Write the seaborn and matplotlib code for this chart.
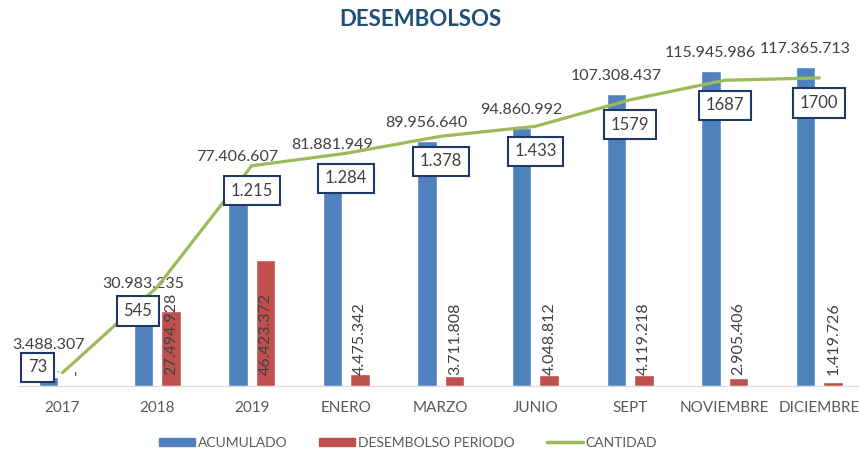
import numpy as np
import pandas as pd
import matplotlib.pyplot as plt
import seaborn as sns
from matplotlib.patches import Patch
from matplotlib.lines import Line2D

# Desembolsos: acumulado, periodo y cantidad de creditos

periodos = ['2017', '2018', '2019', 'ENERO', 'MARZO', 'JUNIO', 'SEPT', 'NOVIEMBRE', 'DICIEMBRE']
acumulado = [3488307, 30983235, 77406607, 81881949, 89956640, 94860992, 107308437, 115945986, 117365713]
desembolso_periodo = [0, 27494928, 46423372, 4475342, 3711808, 4048812, 4119218, 2905406, 1419726]
cantidad = [73, 545, 1215, 1284, 1378, 1433, 1579, 1687, 1700]
cantidad_labels = ['73', '545', '1.215', '1.284', '1.378', '1.433', '1579', '1687', '1700']

BLUE = '#4F81BD'
RED = '#C0504D'
GREEN = '#9BBB59'
NAVY = '#1F3864'
TXT = '#404040'


def fmt(v):
    if v == 0:
        return '-'
    return f'{v:,}'.replace(',', '.')


df = pd.DataFrame({
    'periodo': periodos * 2,
    'valor': acumulado + desembolso_periodo,
    'serie': ['ACUMULADO'] * len(periodos) + ['DESEMBOLSO PERIODO'] * len(periodos),
})

sns.set_style('white')
plt.rcParams['font.family'] = ['Lato', 'DejaVu Sans']

fig = plt.figure(figsize=(8.59, 4.55), dpi=100)
ax = fig.add_axes([18 / 859, 69 / 455, 841 / 859, 340 / 455])

sns.barplot(data=df, x='periodo', y='valor', hue='serie', palette=[BLUE, RED],
            width=0.58, gap=0.29, saturation=1, legend=False, ax=ax)
ax.set_ylim(0, 125e6)

ax2 = ax.twinx()
sns.lineplot(x=np.arange(len(periodos)), y=cantidad, color=GREEN, lw=2.3, ax=ax2)
ax2.set_ylim(0, 1876)
ax.set_xlim(-0.47, 8.42)

for a in (ax, ax2):
    a.set_yticks([])
    a.set_ylabel('')
    for s in ['top', 'left', 'right', 'bottom']:
        a.spines[s].set_visible(False)
ax.spines['bottom'].set_visible(True)
ax.spines['bottom'].set_color('#D9D9D9')
ax.set_xlabel('')
ax.tick_params(axis='x', length=0, pad=11, labelsize=11, labelcolor='#595959')

# etiquetas de barras (la de 2017 va mas arriba para no chocar con la caja)
off = 0.148
for i, v in enumerate(acumulado):
    dy = 18 if i == 0 else 8
    ax.annotate(fmt(v), (i - off, v), xytext=(0, dy), textcoords='offset points',
                ha='center', va='bottom', fontsize=11.5, color=TXT)
for i, v in enumerate(desembolso_periodo):
    ax.annotate(fmt(v), (i + off, 0), xytext=(0, 8), textcoords='offset points',
                ha='center', va='bottom', rotation=90, fontsize=11.5, color=TXT)

# etiquetas de la linea
box = dict(boxstyle='square,pad=0.4', fc='white', ec=NAVY, lw=1.5)
for i, (v, lab) in enumerate(zip(cantidad, cantidad_labels)):
    arrow = None
    if i == 0:
        dx, dy = -18, 4
        arrow = dict(arrowstyle='-', color='#A6A6A6', lw=0.7)
    elif i == 1:
        dx, dy = -14, -17
    else:
        dx, dy = 0, -18
    ax2.annotate(lab, (i, v), xytext=(dx, dy), textcoords='offset points',
                 ha='center', va='center', fontsize=12, color=TXT,
                 bbox=box, arrowprops=arrow, zorder=5)

fig.text(420 / 859, 1 - 20 / 455, 'DESEMBOLSOS', ha='center', va='center',
         fontsize=16, fontweight='bold', color='#1F4E79')

handles = [Patch(color=BLUE), Patch(color=RED), Line2D([], [], color=GREEN, lw=2.5)]
fig.legend(handles, ['ACUMULADO', 'DESEMBOLSO PERIODO', 'CANTIDAD'],
           loc='center', bbox_to_anchor=(408 / 859, 1 - 443 / 455), ncol=3,
           frameon=False, fontsize=10, handlelength=2.6, handleheight=0.55,
           handletextpad=0.2, columnspacing=2.3, labelcolor='#595959')

fig.savefig('out.png', dpi=100)
